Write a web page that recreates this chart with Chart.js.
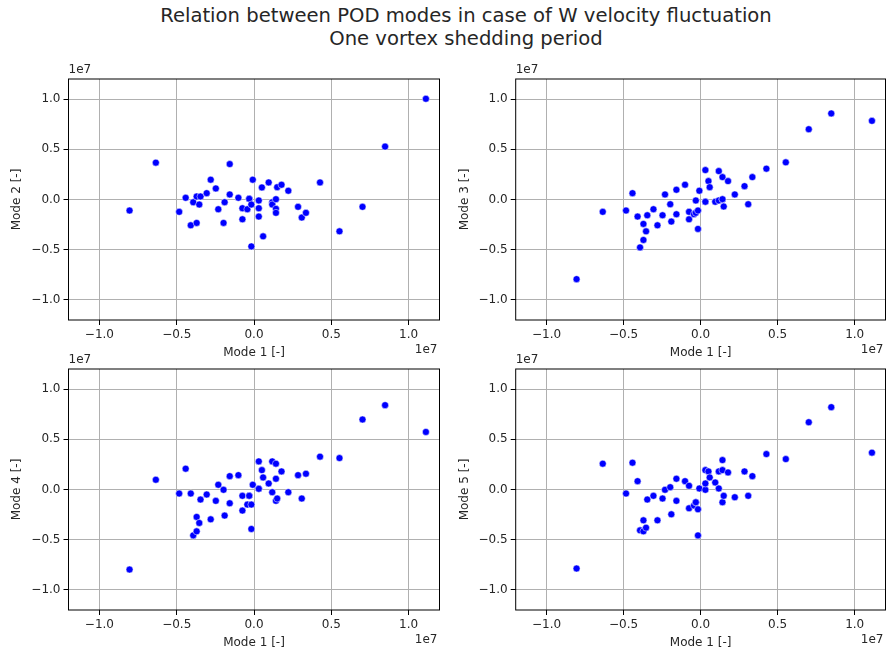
<!DOCTYPE html>
<html>
<head>
<meta charset="utf-8">
<script src="https://cdn.jsdelivr.net/npm/chart.js@4.4.1/dist/chart.umd.min.js"></script>
<style>
  html, body { margin: 0; padding: 0; background: #fff; overflow: hidden; }
  body { width: 888px; height: 653px; position: relative; }
  canvas { position: absolute; }
  #title {
    position: absolute; left: 0; top: 5px; width: 932px;
    text-align: center; font-family: 'DejaVu Sans'; font-size: 19.6px;
    line-height: 22.5px; color: #262626;
  }
</style>
</head>
<body>
<div id="title">Relation between POD modes in case of W velocity fluctuation<br>One vortex shedding period</div>
<script>
// values are in units of 1e7 (the axis offset)
const SCALE = 1e7;

const mode1 = [-0.805, -0.635, -0.484, -0.442, -0.409, -0.393, -0.371, -0.371, -0.354, -0.346,
  -0.306, -0.280, -0.247, -0.231, -0.197, -0.190, -0.157, -0.157, -0.101, -0.075,
  -0.075, -0.043, -0.031, -0.031, -0.017, -0.017, -0.008, 0.031, 0.031, 0.031,
  0.051, 0.059, 0.095, 0.118, 0.118, 0.142, 0.142, 0.142, 0.150, 0.178,
  0.222, 0.285, 0.309, 0.336, 0.427, 0.553, 0.702, 0.848, 1.112];

const mode2 = [-0.11, 0.367, -0.123, 0.017, -0.257, -0.027, 0.03, -0.233, -0.05, 0.03,
  0.063, 0.197, 0.11, -0.097, -0.233, -0.027, 0.353, 0.05, 0.017, -0.087,
  -0.197, -0.097, 0.007, 0.007, -0.05, -0.467, 0.197, -0.01, -0.087, -0.17,
  0.12, -0.367, 0.17, -0.027, -0.05, 0.003, -0.093, -0.133, 0.123, 0.147,
  0.087, -0.073, -0.18, -0.133, 0.17, -0.317, -0.073, 0.527, 1.003];

const mode3 = [-0.793, -0.123, -0.11, 0.063, -0.17, -0.477, -0.403, -0.243, -0.317, -0.157,
  -0.097, -0.257, -0.157, 0.05, -0.047, -0.22, 0.097, -0.147, 0.147, -0.123,
  -0.197, -0.147, -0.01, -0.133, -0.11, -0.293, 0.087, 0.293, -0.023, -0.023,
  0.183, 0.123, -0.023, 0.283, -0.01, 0.223, 0.003, 0.003, -0.07, 0.183,
  0.05, 0.133, -0.047, 0.223, 0.307, 0.37, 0.7, 0.857, 0.783];

const mode4 = [-0.797, 0.097, -0.04, 0.207, -0.04, -0.457, -0.417, -0.273, -0.333, -0.1,
  -0.05, -0.297, -0.113, 0.047, -0.003, -0.26, 0.133, -0.137, 0.143, -0.063,
  -0.21, -0.15, -0.063, -0.063, -0.15, -0.393, 0.047, 0.28, 0.007, 0.007,
  0.193, 0.12, 0.06, 0.28, -0.027, 0.257, 0.107, -0.113, -0.09, 0.18,
  -0.027, 0.143, -0.09, 0.157, 0.327, 0.313, 0.697, 0.84, 0.573];

const mode5 = [-0.787, 0.257, -0.04, 0.267, 0.083, -0.407, -0.417, -0.307, -0.38, -0.1,
  -0.063, -0.307, -0.09, -0.003, 0.023, -0.247, 0.107, -0.113, 0.083, 0.037,
  -0.187, -0.16, -0.127, -0.127, -0.197, -0.457, 0.01, 0.193, -0.003, 0.06,
  0.18, 0.12, 0.07, 0.18, 0.01, 0.293, 0.193, -0.127, -0.063, 0.17,
  -0.077, 0.18, -0.063, 0.133, 0.353, 0.303, 0.67, 0.82, 0.367];

const tickValues = [-1.0, -0.5, 0.0, 0.5, 1.0];
const axisMin = -1.2, axisMax = 1.2;

const textColor = '#262626';
Chart.defaults.font.family = "'DejaVu Sans'";
Chart.defaults.font.size = 12;
Chart.defaults.color = textColor;

const fmt = v => (v / SCALE).toFixed(1).replace('-', '\u2212');

// frame around the plot + the "1e7" offset texts
const framePlugin = {
  id: 'frame',
  afterDraw(chart) {
    const { ctx, chartArea: a } = chart;
    ctx.save();
    ctx.strokeStyle = '#000';
    ctx.lineWidth = 1;
    ctx.strokeRect(a.left, a.top, a.right - a.left, a.bottom - a.top);
    ctx.fillStyle = textColor;
    ctx.font = "12px 'DejaVu Sans'";
    ctx.textAlign = 'left';
    ctx.textBaseline = 'bottom';
    ctx.fillText('1e7', a.left, a.top - 3);
    ctx.textAlign = 'right';
    ctx.textBaseline = 'middle';
    ctx.fillText('1e7', a.right - 2, a.bottom + 30);
    ctx.restore();
  }
};

const panels = [
  { values: mode2, label: 'Mode 2 [-]', left: 0,   top: 60,  width: 444, padLeft: 0,   padRight: 3, yWidth: 68.5 },
  { values: mode3, label: 'Mode 3 [-]', left: 444, top: 60,  width: 446, padLeft: 3.8, padRight: 1, yWidth: 67.9 },
  { values: mode4, label: 'Mode 4 [-]', left: 0,   top: 350, width: 444, padLeft: 0,   padRight: 3, yWidth: 68.5 },
  { values: mode5, label: 'Mode 5 [-]', left: 444, top: 350, width: 446, padLeft: 3.8, padRight: 1, yWidth: 67.9 }
];

function axis(title, isX, fitSize) {
  return {
    type: 'linear',
    min: axisMin * SCALE,
    max: axisMax * SCALE,
    afterBuildTicks: s => { s.ticks = tickValues.map(v => ({ value: v * SCALE })); },
    afterFit: s => { if (isX) s.height = fitSize; else s.width = fitSize; },
    grid: { color: '#b0b0b0', lineWidth: 1, tickColor: '#000', tickLength: 5 },
    border: { display: false },
    ticks: { callback: fmt, padding: 3, autoSkip: false, maxRotation: 0, color: textColor },
    title: {
      display: true, text: title, color: textColor,
      padding: isX ? { top: 0, bottom: 3 } : { top: 10, bottom: 0 }
    }
  };
}

panels.forEach(p => {
  const canvas = document.createElement('canvas');
  canvas.width = p.width;
  canvas.height = 303;
  canvas.style.left = p.left + 'px';
  canvas.style.top = p.top + 'px';
  document.body.appendChild(canvas);

  new Chart(canvas.getContext('2d'), {
    type: 'scatter',
    data: {
      datasets: [{
        data: mode1.map((x, i) => ({ x: x * SCALE, y: p.values[i] * SCALE })),
        backgroundColor: '#0000ff',
        borderColor: '#ffffff',
        borderWidth: 0.5,
        pointRadius: 3.5
      }]
    },
    options: {
      responsive: false,
      animation: false,
      devicePixelRatio: 1,
      layout: { padding: { left: p.padLeft, right: p.padRight, top: 19, bottom: 0 } },
      scales: {
        x: axis('Mode 1 [-]', true, 43),
        y: axis(p.label, false, p.yWidth)
      },
      plugins: { legend: { display: false }, tooltip: { enabled: false } }
    },
    plugins: [framePlugin]
  });
});
</script>
</body>
</html>
